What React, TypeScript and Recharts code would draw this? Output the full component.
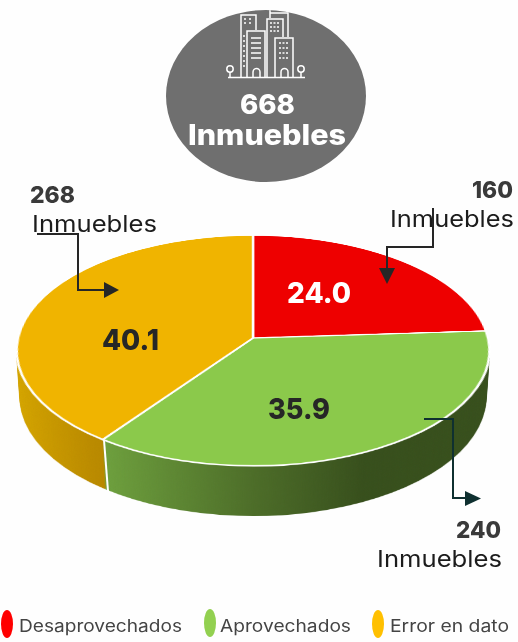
import React from 'react';
import { PieChart, Pie, Cell } from 'recharts';

// share of the 668 buildings, in percent
const categories = ['Desaprovechados', 'Aprovechados', 'Error en dato'];
const shares = [24.0, 35.9, 40.1];
const counts = [160, 240, 268];
const total = 668;
const unit = 'Inmuebles';

const topColors = ['#ee0000', '#8bc94b', '#f0b400'];
const wallFills = ['#a00000', 'url(#wallGreen)', 'url(#wallGold)'];
const legendColors = ['#ff0000', '#92d050', '#ffc000'];

const pieData = categories.map((name, i) => ({ name, value: shares[i] }));

const font = 'Inter, "Noto Sans", sans-serif';
const DEPTH = 54;
const layers = Array.from({ length: DEPTH }, (_, i) => DEPTH - i);

const PieLayer: React.FC<{ fills: string[]; stroke: string; z: number }> = ({ fills, stroke, z }) => (
  <div style={{ position: 'absolute', left: 0, top: 0, transform: `translateZ(${-z}px)` }}>
    <PieChart width={500} height={500} margin={{ top: 0, right: 0, bottom: 0, left: 0 }}>
      <defs>
        <linearGradient id="wallGreen" gradientUnits="userSpaceOnUse" x1="107" y1="0" x2="350" y2="0">
          <stop offset="0" stopColor="#6fa23e" />
          <stop offset="0.6" stopColor="#4c6c28" />
          <stop offset="1" stopColor="#374f1c" />
        </linearGradient>
        <linearGradient id="wallGold" gradientUnits="userSpaceOnUse" x1="14" y1="0" x2="107" y2="0">
          <stop offset="0" stopColor="#d6a600" />
          <stop offset="1" stopColor="#b98900" />
        </linearGradient>
      </defs>
      <Pie
        data={pieData}
        dataKey="value"
        cx={250}
        cy={250}
        outerRadius={235}
        startAngle={90}
        endAngle={-270}
        stroke={stroke}
        strokeWidth={stroke === 'none' ? 0 : 2.5}
        label={false}
        labelLine={false}
        isAnimationActive={false}
      >
        {pieData.map((d, i) => (
          <Cell key={d.name} fill={fills[i]} />
        ))}
      </Pie>
    </PieChart>
  </div>
);

const Arrow: React.FC<{ points: string; head: string; color: string }> = ({ points, head, color }) => (
  <g>
    <polyline points={points} fill="none" stroke={color} strokeWidth={2} />
    <polygon points={head} fill={color} />
  </g>
);

const Txt: React.FC<{ x: number; y: number; w: number; size: number; weight?: number; color: string; children: React.ReactNode }> = ({
  x,
  y,
  w,
  size,
  weight = 400,
  color,
  children,
}) => (
  <text x={x} y={y} textLength={w} lengthAdjust="spacingAndGlyphs" fontSize={size} fontWeight={weight} fill={color} fontFamily={font}>
    {children}
  </text>
);

const BuildingIcon = () => (
  <g fill="none" stroke="#fff" strokeWidth={1.5}>
    <path d="M228 77.5H305" />
    <circle cx={230} cy={69} r={3.2} />
    <path d="M230 72V77M301 72V77" />
    <circle cx={301} cy={69} r={3.2} />
    <path d="M241 77V15H256V30" />
    <path d="M247 77V31H265V77" />
    <path d="M267 77V19H283V37" />
    <path d="M270 18V10M288 37V10M270 13H288" />
    <path d="M275 77V38H293V77" />
    <path d="M253 77V72A3 3 0 0 1 260 72V77M281 77V72A3 3 0 0 1 288 72V77" />
    <path d="M251 38H261M251 43H261M251 48H261M251 53H261M251 58H261" />
    <path d="M244 19H253M244 23H253M244 35V70" strokeDasharray="2 3" />
    <path d="M270 23H280M270 27H280M270 31H280" strokeDasharray="2 1.5" />
    <path d="M279 43H289M279 48H289M279 53H289M279 58H289" strokeDasharray="2 1.5" />
  </g>
);

export default function App() {
  return (
    <div style={{ position: 'absolute', left: 0, top: 0, width: 518, height: 642, background: '#fefefe', overflow: 'hidden' }}>
      {/* tilted pie: stacked layers make the side wall */}
      <div
        style={{
          position: 'absolute',
          left: 3,
          top: 88,
          width: 500,
          height: 500,
          transformStyle: 'preserve-3d',
          transform: 'perspective(1888px) rotateX(61deg)',
        }}
      >
        {layers.map(z => (
          <PieLayer key={z} fills={wallFills} stroke="none" z={z} />
        ))}
        <PieLayer fills={topColors} stroke="#ffffff" z={0} />
      </div>

      <svg width={518} height={642} style={{ position: 'absolute', left: 0, top: 0 }}>
        <defs>
          <clipPath id="iconClip">
            <ellipse cx={266} cy={96} rx={100} ry={86} />
          </clipPath>
        </defs>
        <ellipse cx={266} cy={96} rx={100} ry={86} fill="#6f6f6f" />
        <g clipPath="url(#iconClip)">
          <BuildingIcon />
        </g>
        <Txt x={240} y={114} w={55} size={27} weight={800} color="#fff">{total}</Txt>
        <Txt x={188} y={145} w={158} size={28} weight={800} color="#fff">{unit}</Txt>

        <path d="M104 440L108 491" stroke="#fff" strokeWidth={2} />

        <Txt x={287} y={303} w={64} size={29} weight={800} color="#fff">{shares[0].toFixed(1)}</Txt>
        <Txt x={268} y={419} w={62} size={29} weight={800} color="#262626">{shares[1].toFixed(1)}</Txt>
        <Txt x={102} y={350} w={57} size={29} weight={800} color="#262626">{shares[2].toFixed(1)}</Txt>

        <Txt x={30} y={203} w={45} size={23} weight={800} color="#3a3a3a">{counts[2]}</Txt>
        <Txt x={32} y={232} w={125} size={23} color="#1c1c1c">{unit}</Txt>
        <Txt x={472} y={198} w={41} size={23} weight={800} color="#3a3a3a">{counts[0]}</Txt>
        <Txt x={390} y={227} w={124} size={23} color="#1c1c1c">{unit}</Txt>
        <Txt x={456} y={538} w={45} size={23} weight={800} color="#3a3a3a">{counts[1]}</Txt>
        <Txt x={377} y={567} w={125} size={23} color="#1c1c1c">{unit}</Txt>

        <Arrow points="37,234 78,234 78,290 106,290" head="104,282 119,290 104,298" color="#262626" />
        <Arrow points="433,208 433,247 387,247 387,270" head="379,268 395,268 387,284" color="#262626" />
        <Arrow points="424,419 453,419 453,498 467,498" head="465,491 481,498.5 465,506" color="#0f3030" />

        {categories.map((c, i) => {
          const sx = [7, 210, 378][i];
          const tx = [19, 220, 390][i];
          const tw = [163, 131, 119][i];
          return (
            <g key={c}>
              <ellipse cx={sx} cy={[624, 623, 624][i]} rx={6} ry={14} fill={legendColors[i]} />
              <Txt x={tx} y={632} w={tw} size={17} color="#444">{c}</Txt>
            </g>
          );
        })}
      </svg>
    </div>
  );
}
